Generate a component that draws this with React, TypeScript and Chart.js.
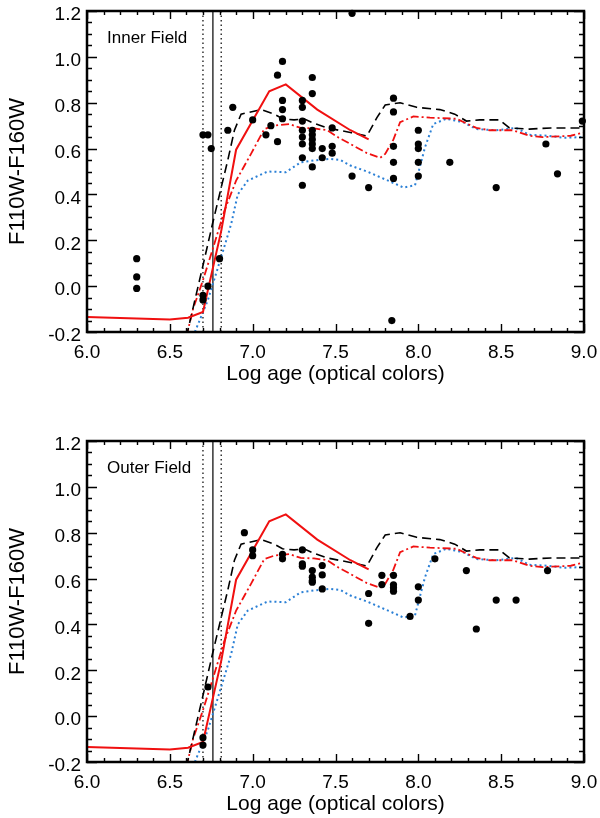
import React, { useEffect, useRef } from "react";
import { Chart, registerables } from "chart.js";
Chart.register(...registerables);

const FONT = "'Liberation Sans', Arial, Helvetica, sans-serif";

// Axis ticks
const xTickValues = [6.0, 6.5, 7.0, 7.5, 8.0, 8.5, 9.0];
const xTickLabels = ["6.0", "6.5", "7.0", "7.5", "8.0", "8.5", "9.0"];
const yTickValues = [-0.2, 0.0, 0.2, 0.4, 0.6, 0.8, 1.0, 1.2];
const yTickLabels = ["-0.2", "0.0", "0.2", "0.4", "0.6", "0.8", "1.0", "1.2"];

// Model curves (identical in both panels)
const redSolidAge = [6.0, 6.5, 6.61, 6.70, 6.81, 6.90, 7.10, 7.20, 7.39, 7.59, 7.70];
const redSolidColor = [-0.135, -0.145, -0.138, -0.113, 0.24, 0.595, 0.85, 0.88, 0.77, 0.68, 0.64];

const blackDashAge = [6.60, 6.70, 6.757, 6.81, 6.85, 6.89, 6.93, 7.05, 7.13, 7.18, 7.25, 7.31, 7.37, 7.45, 7.59, 7.69, 7.75, 7.80, 7.89, 7.99, 8.13, 8.22, 8.29, 8.37, 8.49, 8.55, 8.67, 8.80, 9.0];
const blackDashColor = [-0.22, 0.09, 0.27, 0.43, 0.55, 0.68, 0.75, 0.77, 0.75, 0.73, 0.725, 0.73, 0.71, 0.69, 0.67, 0.655, 0.735, 0.79, 0.80, 0.78, 0.77, 0.75, 0.72, 0.725, 0.725, 0.69, 0.685, 0.69, 0.69];

const redDashDotAge = [6.60, 6.64, 6.70, 6.757, 6.83, 6.90, 6.99, 7.07, 7.13, 7.22, 7.29, 7.37, 7.45, 7.52, 7.59, 7.69, 7.77, 7.80, 7.85, 7.89, 7.97, 8.07, 8.23, 8.35, 8.43, 8.57, 8.67, 8.75, 8.92, 9.0];
const redDashDotColor = [-0.22, -0.10, 0.026, 0.157, 0.33, 0.46, 0.577, 0.685, 0.70, 0.707, 0.69, 0.688, 0.68, 0.647, 0.62, 0.58, 0.56, 0.577, 0.64, 0.715, 0.74, 0.735, 0.73, 0.69, 0.68, 0.68, 0.656, 0.65, 0.656, 0.67];

const blueDotAge = [6.64, 6.73, 6.81, 6.87, 6.91, 6.97, 7.09, 7.20, 7.29, 7.37, 7.47, 7.53, 7.59, 7.69, 7.84, 7.91, 7.98, 8.04, 8.09, 8.17, 8.27, 8.35, 8.47, 8.59, 8.67, 8.78, 8.88, 9.0];
const blueDotColor = [-0.22, -0.06, 0.127, 0.27, 0.40, 0.46, 0.50, 0.497, 0.54, 0.548, 0.555, 0.55, 0.526, 0.50, 0.453, 0.43, 0.44, 0.605, 0.707, 0.73, 0.715, 0.685, 0.68, 0.69, 0.66, 0.656, 0.647, 0.65];

// Vertical reference lines
const dottedLineAges = [6.70, 6.81];
const solidLineAges = [6.76];

// Inner field clusters
const innerAge = [6.30, 6.30, 6.30, 6.70, 6.70, 6.70, 6.73, 6.75, 6.73, 6.80, 6.85, 6.88, 7.00, 7.08, 7.11,
  7.15, 7.15, 7.18, 7.18, 7.18, 7.18,
  7.30, 7.30, 7.30, 7.30, 7.30, 7.30, 7.30, 7.30,
  7.36, 7.36, 7.36, 7.36, 7.36, 7.36, 7.36, 7.36,
  7.42, 7.42, 7.48, 7.48, 7.48, 7.60, 7.60, 7.70, 7.84,
  7.85, 7.85, 7.85, 7.85, 7.85,
  8.00, 8.00, 8.00, 8.00, 8.00,
  8.19, 8.47, 8.77, 8.84, 8.99];
const innerColor = [0.12, 0.04, -0.01, -0.04, -0.06, 0.66, 0.66, 0.60, 0.00, 0.12, 0.68, 0.78, 0.725, 0.66, 0.70,
  0.63, 0.92, 0.98, 0.81, 0.77, 0.73,
  0.81, 0.78, 0.72, 0.68, 0.65, 0.62, 0.56, 0.44,
  0.91, 0.84, 0.68, 0.66, 0.64, 0.62, 0.60, 0.52,
  0.60, 0.56, 0.69, 0.61, 0.58, 1.19, 0.48, 0.43, -0.15,
  0.82, 0.76, 0.61, 0.54, 0.47,
  0.68, 0.62, 0.60, 0.54, 0.48,
  0.54, 0.43, 0.62, 0.49, 0.72];

// Outer field clusters
const outerAge = [6.70, 6.70, 6.73, 6.95, 7.00, 7.00, 7.18, 7.18,
  7.30, 7.30, 7.30, 7.36, 7.36, 7.36, 7.36, 7.42, 7.42, 7.42,
  7.70, 7.70, 7.78, 7.78, 7.85, 7.85, 7.85, 7.85, 7.95, 8.00, 8.00,
  8.10, 8.29, 8.35, 8.47, 8.59, 8.78];
const outerColor = [-0.094, -0.126, 0.127, 0.80, 0.725, 0.70, 0.706, 0.686,
  0.725, 0.664, 0.654, 0.635, 0.606, 0.59, 0.584, 0.657, 0.616, 0.555,
  0.535, 0.405, 0.614, 0.574, 0.614, 0.573, 0.56, 0.545, 0.435, 0.564, 0.506,
  0.686, 0.635, 0.38, 0.506, 0.506, 0.635];

const pts = (xs: number[], ys: number[]) => xs.map((x, i) => ({ x, y: ys[i] }));
const vline = (x: number) => [{ x, y: -0.2 }, { x, y: 1.2 }];

const framePlugin = {
  id: "idlFrame",
  afterDraw(chart: any, _args: any, opts: any) {
    const { ctx, chartArea: a, scales } = chart;
    const xs = scales.x;
    const ys = scales.y;
    ctx.save();
    ctx.strokeStyle = "#000";
    ctx.lineWidth = 1.4;
    ctx.beginPath();
    for (let i = 0; i <= 30; i++) {
      const v = 6 + i * 0.1;
      const px = Math.round(xs.getPixelForValue(v)) + 0.5;
      const len = i % 5 === 0 ? 8 : 4;
      ctx.moveTo(px, a.bottom);
      ctx.lineTo(px, a.bottom - len);
      ctx.moveTo(px, a.top);
      ctx.lineTo(px, a.top + len);
    }
    for (let i = 0; i <= 28; i++) {
      const v = -0.2 + i * 0.05;
      const py = Math.round(ys.getPixelForValue(v)) + 0.5;
      const len = i % 4 === 0 ? 10 : 5;
      ctx.moveTo(a.left, py);
      ctx.lineTo(a.left + len, py);
      ctx.moveTo(a.right, py);
      ctx.lineTo(a.right - len, py);
    }
    ctx.stroke();
    ctx.lineWidth = 2.5;
    ctx.strokeRect(a.left, a.top, a.right - a.left, a.bottom - a.top);
    ctx.fillStyle = "#000";
    ctx.font = `17px ${FONT}`;
    ctx.textBaseline = "alphabetic";
    ctx.textAlign = "left";
    ctx.fillText(opts.label, a.left + 20, a.top + 32);
    ctx.restore();
  },
};

function Panel(props: { label: string; age: number[]; color: number[]; height: number; padBottom: number }) {
  const ref = useRef<HTMLCanvasElement>(null);
  useEffect(() => {
    const canvas = ref.current!;
    const lineBase = { showLine: true, pointRadius: 0, fill: false, tension: 0 };
    const chart = new Chart(canvas, {
      type: "scatter",
      data: {
        datasets: [
          {
            data: pts(props.age, props.color),
            backgroundColor: "#000",
            borderColor: "#000",
            pointRadius: 3.6,
            pointBorderWidth: 0,
            showLine: false,
            clip: false,
          } as any,
          { ...lineBase, data: pts(redSolidAge, redSolidColor), borderColor: "#f01010", borderWidth: 2 },
          { ...lineBase, data: pts(blackDashAge, blackDashColor), borderColor: "#000", borderWidth: 1.6, borderDash: [9, 5] },
          { ...lineBase, data: pts(redDashDotAge, redDashDotColor), borderColor: "#f01010", borderWidth: 1.8, borderDash: [8, 3, 2, 3] },
          { ...lineBase, data: pts(blueDotAge, blueDotColor), borderColor: "#2b80d6", borderWidth: 2, borderDash: [2, 3] },
          ...dottedLineAges.map((x) => ({ ...lineBase, data: vline(x), borderColor: "#000", borderWidth: 1.2, borderDash: [1.5, 3] })),
          ...solidLineAges.map((x) => ({ ...lineBase, data: vline(x), borderColor: "#000", borderWidth: 1.2 })),
        ] as any,
      },
      options: {
        animation: false,
        responsive: false,
        events: [],
        layout: { padding: { top: 11, right: 16, bottom: props.padBottom, left: 0 } },
        plugins: {
          legend: { display: false },
          tooltip: { enabled: false },
          idlFrame: { label: props.label },
        } as any,
        scales: {
          x: {
            type: "linear",
            min: 6,
            max: 9,
            afterBuildTicks: (s: any) => { s.ticks = xTickValues.map((v) => ({ value: v })); },
            afterFit: (s: any) => { s.height = 56; s.paddingLeft = 0; s.paddingRight = 0; },
            grid: { display: false, drawTicks: false },
            border: { display: false },
            ticks: {
              callback: (_v: any, i: number) => xTickLabels[i],
              font: { family: FONT, size: 19 },
              color: "#000",
              padding: 9,
              maxRotation: 0,
              autoSkip: false,
            },
            title: {
              display: true,
              text: "Log age (optical colors)",
              font: { family: FONT, size: 21 },
              color: "#000",
              padding: { top: 0, bottom: 1 },
            },
          },
          y: {
            type: "linear",
            min: -0.2,
            max: 1.2,
            afterBuildTicks: (s: any) => { s.ticks = yTickValues.map((v) => ({ value: v })); },
            afterFit: (s: any) => { s.width = 87; s.paddingTop = 0; s.paddingBottom = 0; },
            grid: { display: false, drawTicks: false },
            border: { display: false },
            ticks: {
              callback: (_v: any, i: number) => yTickLabels[i],
              font: { family: FONT, size: 19 },
              color: "#000",
              padding: 6,
              labelOffset: 4,
              autoSkip: false,
            },
            title: {
              display: true,
              text: "F110W-F160W",
              font: { family: FONT, size: 22 },
              color: "#000",
              padding: { top: 5, bottom: 0 },
            },
          },
        },
      } as any,
      plugins: [framePlugin],
    });
    return () => chart.destroy();
  }, []);
  return <canvas ref={ref} width={600} height={props.height} style={{ display: "block", width: 600, height: props.height }} />;
}

export default function App() {
  return (
    <div style={{ position: "absolute", left: 0, top: 0, width: 600, height: 818, background: "#fff" }}>
      <Panel label="Inner Field" age={innerAge} color={innerColor} height={430} padBottom={42} />
      <Panel label="Outer Field" age={outerAge} color={outerColor} height={388} padBottom={0} />
    </div>
  );
}
